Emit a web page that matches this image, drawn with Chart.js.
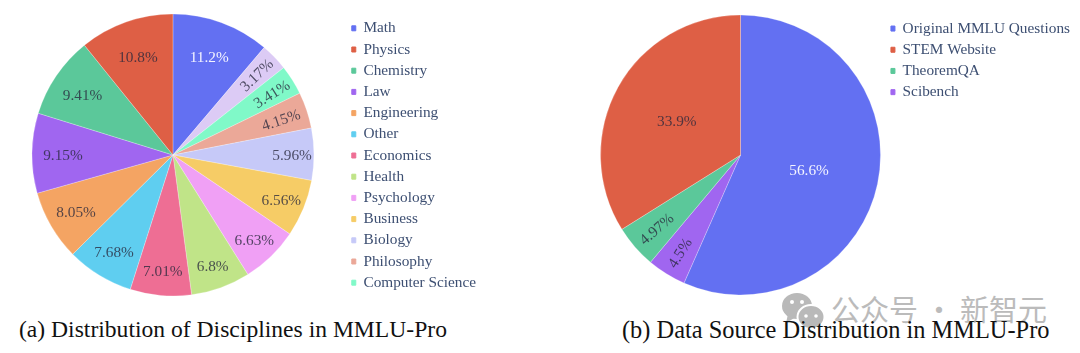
<!DOCTYPE html>
<html>
<head>
<meta charset="utf-8">
<script src="https://cdn.jsdelivr.net/npm/chart.js@4"></script>
<style>
    html, body { margin: 0; padding: 0; background: #fff; }
    body { width: 1080px; height: 353px; position: relative; overflow: hidden; }
    canvas { position: absolute; }
    .caption { position: absolute; top: 316px; font-family: "Liberation Serif", serif; color: #111; white-space: nowrap; }
    .mark { position: absolute; left: 831px; top: 287px; font: 29px "Noto Sans CJK SC", sans-serif; color: #bbb; white-space: nowrap; }
    svg { position: absolute; left: 782px; top: 292px; }
</style>
</head>
<body>
<svg width="44" height="40" viewBox="0 0 44 40">
    <ellipse cx="15" cy="14" rx="15" ry="13" fill="#b9b9b9"/>
    <path d="M6 22 L4 31 L14 25 Z" fill="#b9b9b9"/>
    <ellipse cx="29" cy="25" rx="13.5" ry="12" fill="#b9b9b9" stroke="#fff" stroke-width="2"/>
    <circle cx="10" cy="10" r="2" fill="#fff"/>
    <circle cx="20" cy="10" r="2" fill="#fff"/>
    <circle cx="24" cy="24" r="1.8" fill="#fff"/>
    <circle cx="34" cy="24" r="1.8" fill="#fff"/>
</svg>
<div class="mark">公众号 · 新智元</div>
<canvas id="disciplines-chart" width="486" height="310" style="left:0;top:0"></canvas>
<canvas id="source-chart" width="484" height="310" style="left:596px;top:0"></canvas>
<div class="caption" style="left:19px;font-size:23.6px">(a) Distribution of Disciplines in MMLU-Pro</div>
<div class="caption" style="left:622px;font-size:24.4px">(b) Data Source Distribution in MMLU-Pro</div>

<script>
// slices run clockwise from 12 o'clock, the legend has its own order
const disciplineLabels = ['Math', 'History', 'Computer Science', 'Philosophy', 'Biology', 'Business', 'Psychology',
    'Health', 'Economics', 'Other', 'Engineering', 'Law', 'Chemistry', 'Physics'];
const disciplineValues = [11.2, 3.17, 3.41, 4.15, 5.96, 6.56, 6.63, 6.8, 7.01, 7.68, 8.05, 9.15, 9.41, 10.8];
const disciplineTexts = ['11.2%', '3.17%', '3.41%', '4.15%', '5.96%', '6.56%', '6.63%',
    '6.8%', '7.01%', '7.68%', '8.05%', '9.15%', '9.41%', '10.8%'];
const disciplineLegend = ['Math', 'Physics', 'Chemistry', 'Law', 'Engineering', 'Other', 'Economics',
    'Health', 'Psychology', 'Business', 'Biology', 'Philosophy', 'Computer Science'];
const disciplineColors = ['#6370f2', '#dccbf5', '#80f9c8', '#eba898', '#c6c9f8', '#f6cc66', '#f0a0f5',
    '#c0e488', '#ee6e94', '#5fcef0', '#f4a463', '#a066f0', '#5bc89a', '#de5f45'];
// how far out each text sits, as a share of the radius
const disciplineDist = [0.745, 0.83, 0.83, 0.81, 0.845, 0.83, 0.83, 0.83, 0.82, 0.8, 0.795, 0.78, 0.775, 0.745];

const sourceLabels = ['Original MMLU Questions', 'Scibench', 'TheoremQA', 'STEM Website'];
const sourceValues = [56.6, 4.5, 4.97, 33.9];
const sourceTexts = ['56.6%', '4.5%', '4.97%', '33.9%'];
const sourceLegend = ['Original MMLU Questions', 'STEM Website', 'TheoremQA', 'Scibench'];
const sourceColors = ['#6370f2', '#a066f0', '#5bc89a', '#de5f45'];
const sourceDist = [0.5, 0.81, 0.79, 0.52];

const serif = '"Liberation Serif", serif';

// no datalabels plugin here, small slices get their text along the radius
const sliceText = {
    id: 'sliceText',
    afterDatasetsDraw(chart, args, opts) {
        const ctx = chart.ctx;
        chart.getDatasetMeta(0).data.forEach((arc, i) => {
            const mid = (arc.startAngle + arc.endAngle) / 2;
            const r = arc.outerRadius * opts.dist[i];
            const share = chart.data.datasets[0].data[i];
            ctx.save();
            ctx.translate(arc.x + Math.cos(mid) * r, arc.y + Math.sin(mid) * r + 2);
            if (share < 5) {
                let a = mid;
                if (Math.cos(mid) < 0) a += Math.PI;
                ctx.rotate(a);
            }
            ctx.font = '15.3px ' + serif;
            ctx.textAlign = 'center';
            ctx.textBaseline = 'middle';
            ctx.fillStyle = chart.data.datasets[0].backgroundColor[i] === '#6370f2' ? '#f4f4ff' : 'rgba(40,40,60,0.78)';
            ctx.fillText(opts.texts[i], 0, 0);
            ctx.restore();
        });
    }
};

function drawPie(id, labels, values, colors, texts, legendOrder, dist, pad, radius, legendAlign) {
    return new Chart(document.getElementById(id), {
        type: 'pie',
        plugins: [sliceText],
        data: {
            labels: labels,
            datasets: [{ data: values, backgroundColor: colors, radius: radius, borderWidth: 0.25, borderColor: '#fff' }]
        },
        options: {
            responsive: false,
            animation: false,
            layout: { padding: pad },
            plugins: {
                tooltip: { enabled: false },
                sliceText: { texts: texts, dist: dist },
                legend: {
                    position: 'right',
                    align: legendAlign,
                    labels: {
                        boxWidth: 4,
                        boxHeight: 5,
                        padding: 5.9,
                        color: '#3d4f72',
                        font: { family: serif, size: 15.3 },
                        generateLabels: chart => Chart.overrides.pie.plugins.legend.labels.generateLabels(chart).map(item => {
                            item.strokeStyle = item.fillStyle;
                            item.lineWidth = 1;
                            return item;
                        }),
                        filter: item => legendOrder.includes(item.text),
                        sort: (a, b) => legendOrder.indexOf(a.text) - legendOrder.indexOf(b.text)
                    }
                }
            }
        }
    });
}

const disciplinesChart = drawPie('disciplines-chart', disciplineLabels, disciplineValues, disciplineColors, disciplineTexts,
    disciplineLegend, disciplineDist, {}, 141, 'center');
// legend column sits a pixel low in the original
disciplinesChart.legend.top += 1;
disciplinesChart.draw();
drawPie('source-chart', sourceLabels, sourceValues, sourceColors, sourceTexts,
    sourceLegend, sourceDist, { top: 15, bottom: 15 }, 140, 'start');
</script>
</body>
</html>
